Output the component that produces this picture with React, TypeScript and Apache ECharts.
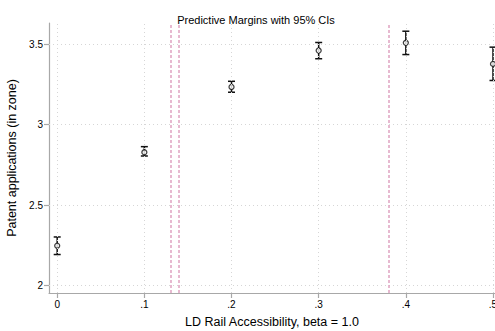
import React, { useEffect, useRef } from "react";
import * as echarts from "echarts";

const xValues = [0, 0.1, 0.2, 0.3, 0.4, 0.5];
const margins = [2.248, 2.828, 3.234, 3.46, 3.508, 3.377];
const ciLow = [2.193, 2.805, 3.201, 3.409, 3.435, 3.274];
const ciHigh = [2.302, 2.863, 3.269, 3.51, 3.58, 3.481];
const xTicks = [0, 0.1, 0.2, 0.3, 0.4, 0.5];
const xTickLabels = ["0", ".1", ".2", ".3", ".4", ".5"];
const yTicks = [2, 2.5, 3, 3.5];
const yTickLabels = ["2", "2.5", "3", "3.5"];
const cutoffs = [0.13, 0.1422, 0.3814];

const FONT = "Liberation Sans, Arial, Helvetica, sans-serif";

export default function App() {
  const ref = useRef<HTMLDivElement>(null);
  useEffect(() => {
    if (!ref.current) return;
    const chart = echarts.init(ref.current, null, { renderer: "svg" });
    const points = xValues.map((x, i) => [x, margins[i]]);
    const bars = xValues.map((x, i) => [x, ciLow[i], ciHigh[i]]);
    const gridStyle = { color: "#d6d6d6", width: 1, type: [1, 3] as number[] };
    chart.setOption({
      animation: false,
      backgroundColor: "#ffffff",
      title: {
        text: "Predictive Margins with 95% CIs",
        left: 251,
        top: 9,
        textAlign: "center",
        textStyle: { fontFamily: FONT, fontSize: 11, fontWeight: "normal", color: "#000" },
      },
      grid: { left: 49, right: 0, top: 23, bottom: 38, containLabel: false, outerBoundsMode: "none" },
      xAxis: {
        type: "value",
        min: -0.0094,
        max: 0.5023,
        name: "LD Rail Accessibility, beta = 1.0",
        nameLocation: "middle",
        nameGap: 22,
        nameTextStyle: { fontFamily: FONT, fontSize: 12.5, color: "#000" },
        axisLine: { show: true, onZero: false, lineStyle: { color: "#a8a8a8", width: 1.2 } },
        axisTick: { show: true, length: 5, customValues: xTicks, lineStyle: { color: "#a8a8a8", width: 1.2 } },
        axisLabel: {
          customValues: xTicks,
          formatter: (v: number) => xTickLabels[xTicks.findIndex((t) => Math.abs(t - v) < 1e-6)] ?? "",
          fontFamily: FONT,
          fontSize: 10,
          color: "#000",
          margin: 6,
          hideOverlap: false,
        },
        splitLine: { show: false },
      },
      yAxis: {
        type: "value",
        min: 1.954,
        max: 3.631,
        name: "Patent applications (in zone)",
        nameLocation: "middle",
        nameGap: 30,
        nameTextStyle: { fontFamily: FONT, fontSize: 12.5, color: "#000" },
        axisLine: { show: true, onZero: false, lineStyle: { color: "#a8a8a8", width: 1.2 } },
        axisTick: { show: true, length: 5, customValues: yTicks, lineStyle: { color: "#a8a8a8", width: 1.2 } },
        axisLabel: {
          customValues: yTicks,
          formatter: (v: number) => yTickLabels[yTicks.findIndex((t) => Math.abs(t - v) < 1e-6)] ?? "",
          fontFamily: FONT,
          fontSize: 10,
          color: "#000",
          margin: 6,
        },
        splitLine: { show: false },
      },
      series: [
        {
          type: "line",
          data: [],
          silent: true,
          markLine: {
            silent: true,
            symbol: ["none", "none"],
            label: { show: false },
            lineStyle: gridStyle,
            data: [
              ...xTicks.map((x) => ({ xAxis: x })),
              ...yTicks.map((y) => ({ yAxis: y })),
            ],
          },
        },
        {
          type: "line",
          data: [],
          silent: true,
          markLine: {
            silent: true,
            symbol: ["none", "none"],
            label: { show: false },
            lineStyle: { color: "#dfa3c1", width: 1.5, type: [3, 2] },
            data: cutoffs.map((x) => ({ xAxis: x })),
          },
        },
        {
          type: "custom",
          data: bars,
          renderItem: (params: any, api: any) => {
            const x = api.value(0);
            const lo = api.coord([x, api.value(1)]);
            const hi = api.coord([x, api.value(2)]);
            const cap = 3.5;
            const style = { stroke: "#111", lineWidth: 1.5 };
            return {
              type: "group",
              children: [
                { type: "line", shape: { x1: lo[0], y1: lo[1], x2: hi[0], y2: hi[1] }, style },
                { type: "line", shape: { x1: lo[0] - cap, y1: lo[1], x2: lo[0] + cap, y2: lo[1] }, style },
                { type: "line", shape: { x1: hi[0] - cap, y1: hi[1], x2: hi[0] + cap, y2: hi[1] }, style },
              ],
            };
          },
          z: 3,
        },
        {
          type: "scatter",
          data: points,
          symbol: "circle",
          symbolSize: 5,
          itemStyle: { color: "#ffffff", borderColor: "#111", borderWidth: 1.3 },
          z: 4,
        },
      ],
    });
    return () => chart.dispose();
  }, []);
  return (
    <div
      ref={ref}
      style={{ position: "fixed", left: 0, top: 0, width: 495, height: 331 }}
    />
  );
}
